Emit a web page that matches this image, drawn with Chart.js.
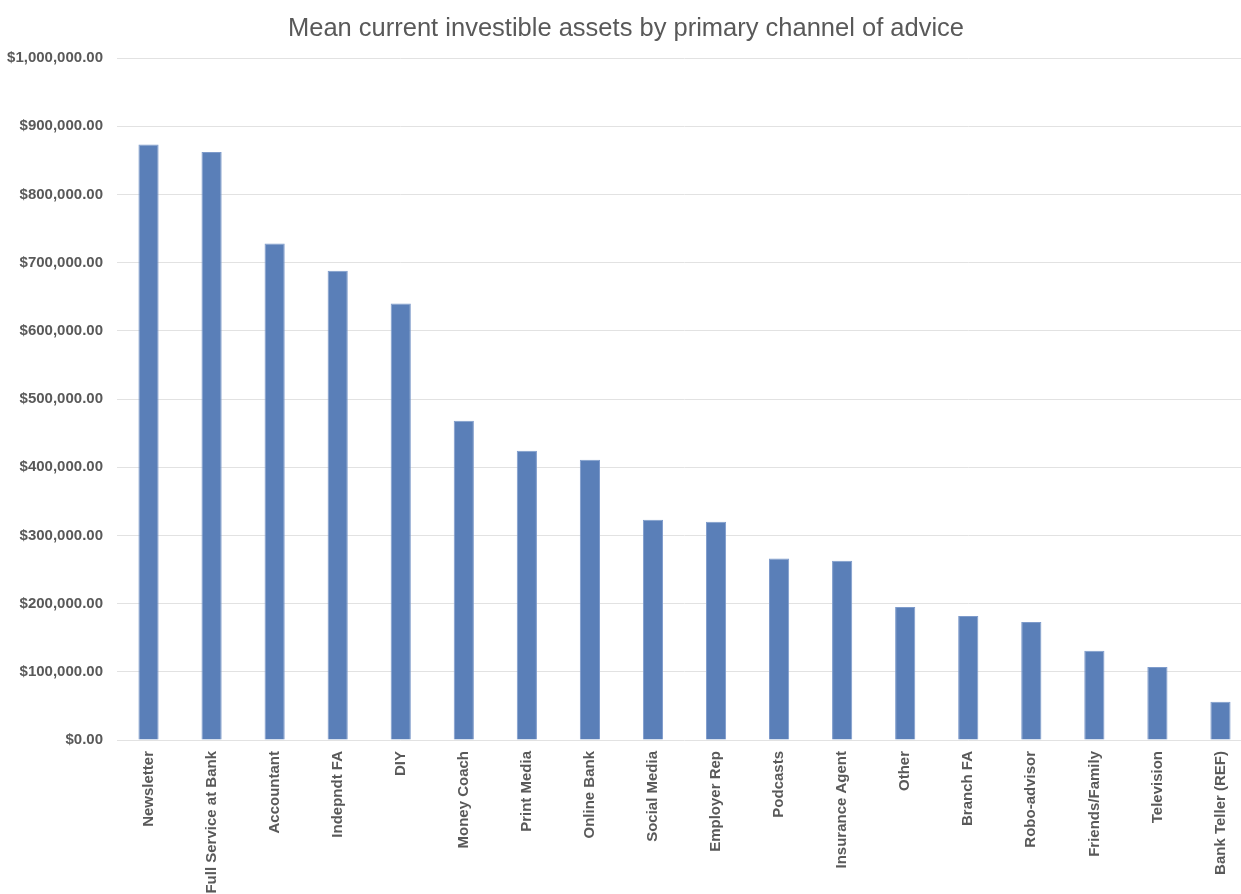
<!DOCTYPE html>
<html>
<head>
<meta charset="utf-8">
<script src="https://cdn.jsdelivr.net/npm/chart.js@4/dist/chart.umd.min.js"></script>
<style>
    html, body { margin: 0; padding: 0; background: #fff; overflow: hidden; }
    #wrap { width: 1252px; height: 894px; }
</style>
</head>
<body>
<div id="wrap"><canvas id="chart" width="1252" height="894"></canvas></div>
<script>
// --- Data ---
const channels = ['Newsletter', 'Full Service at Bank', 'Accountant', 'Indepndt FA', 'DIY',
    'Money Coach', 'Print Media', 'Online Bank', 'Social Media', 'Employer Rep', 'Podcasts',
    'Insurance Agent', 'Other', 'Branch FA', 'Robo-advisor', 'Friends/Family', 'Television',
    'Bank Teller (REF)'];
const meanAssets = [873000, 862000, 728000, 688000, 640000, 468000, 424000, 411000, 323000,
    320000, 266000, 263000, 195000, 182000, 173000, 131000, 107000, 56000];
const yTicks = [0, 100000, 200000, 300000, 400000, 500000, 600000, 700000, 800000, 900000, 1000000];

const labelGrey = '#595959';

function money(v) {
    return '$' + Number(v).toLocaleString('en-US', { minimumFractionDigits: 2, maximumFractionDigits: 2 });
}

document.addEventListener('DOMContentLoaded', function () {
    const ctx = document.getElementById('chart').getContext('2d');
    new Chart(ctx, {
        type: 'bar',
        data: {
            labels: channels,
            datasets: [{
                data: meanAssets,
                backgroundColor: '#5a7fb8',
                borderColor: '#7e9bcb',
                borderWidth: 1,
                barPercentage: 0.32,
                categoryPercentage: 1
            }]
        },
        options: {
            responsive: false,
            animation: false,
            layout: { padding: 0 },
            plugins: {
                legend: { display: false },
                tooltip: { enabled: false },
                title: {
                    display: true,
                    text: 'Mean current investible assets by primary channel of advice',
                    color: labelGrey,
                    font: { family: 'Liberation Sans, Arial, sans-serif', size: 25.5, weight: 'normal' },
                    padding: { top: 14, bottom: 13.4 }
                }
            },
            scales: {
                x: {
                    grid: { display: false },
                    border: { display: false },
                    ticks: {
                        autoSkip: false,
                        minRotation: 90,
                        maxRotation: 90,
                        padding: 3,
                        color: labelGrey,
                        font: { family: 'Liberation Sans, Arial, sans-serif', size: 15, weight: 'bold' }
                    },
                    afterFit: function (scale) { scale.height = 154; }
                },
                y: {
                    min: 0,
                    max: 1000000,
                    afterBuildTicks: function (scale) {
                        scale.ticks = yTicks.map(v => ({ value: v }));
                    },
                    grid: { color: '#e2e2e2', lineWidth: 1, drawTicks: false },
                    border: { display: false },
                    ticks: {
                        padding: 14,
                        color: labelGrey,
                        font: { family: 'Liberation Sans, Arial, sans-serif', size: 15, weight: 'bold' },
                        callback: function (v) { return money(v); }
                    },
                    afterFit: function (scale) { scale.width = 117; }
                }
            }
        }
    });
});
</script>
</body>
</html>
